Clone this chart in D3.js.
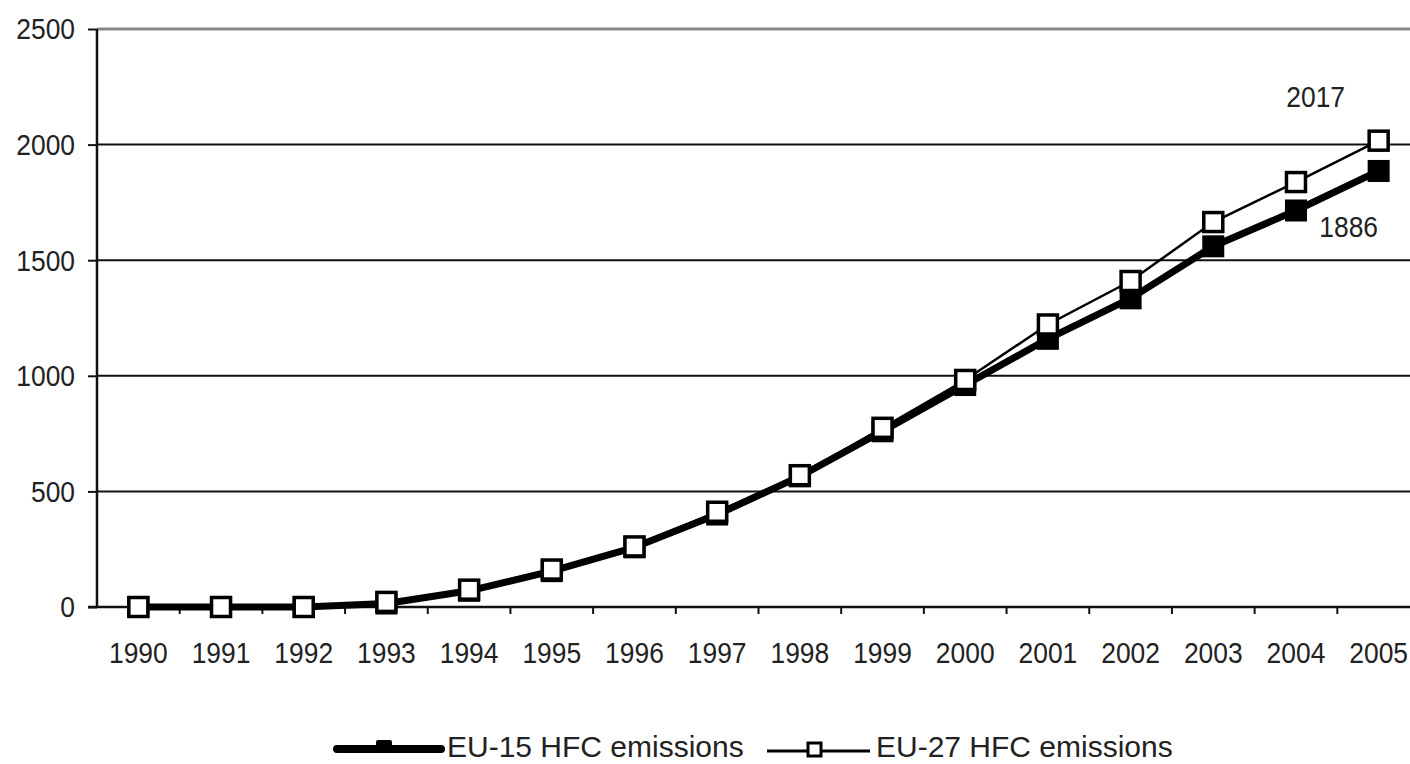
<!DOCTYPE html>
<html>
<head>
<meta charset="utf-8">
<script src="https://cdn.jsdelivr.net/npm/d3@7"></script>
<style>
  body {margin: 0; background: #fff;}
  text {font-family: "Liberation Sans", Arial, sans-serif; fill: #222;}
</style>
</head>
<body>
<script>
var years = d3.range(1990, 2006).map(String)
var eu15 = [0, 0, 0, 15, 70, 155, 258, 400, 565, 760, 960, 1160, 1335, 1560, 1715, 1886]
var eu27 = [0, 0, 0, 22, 75, 162, 262, 412, 570, 775, 982, 1222, 1410, 1665, 1838, 2017]
var yTicks = [0, 500, 1000, 1500, 2000, 2500]
var seriesNames = ['EU-15 HFC emissions', 'EU-27 HFC emissions']

var W = 1410, H = 764
var svg = d3.select('body').append('svg').attr('width', W).attr('height', H)

var x = d3.scaleBand().domain(years).range([97, 1420])
var y = d3.scaleLinear().domain([0, 2500]).range([607, 29])
var cx = d => x(d) + x.bandwidth()/2
var sx = 0.88 // narrow look of the original font

// gridlines
svg.append('g').selectAll('line').data(yTicks.filter(d => d > 0)).join('line')
  .attr('x1', 97).attr('x2', W)
  .attr('y1', d => y(d)).attr('y2', d => y(d))
  .attr('stroke', d => d == 2500 ? '#888' : '#111')
  .attr('stroke-width', d => d == 2500 ? 3 : 2)

// y axis
var yAxis = svg.append('g').attr('transform', 'translate(97,0)')
  .call(d3.axisLeft(y).tickValues(yTicks).tickFormat(d3.format('d')).tickSize(9).tickPadding(13))
yAxis.select('.domain').attr('stroke', '#111').attr('stroke-width', 2.5).attr('d', `M0,${y(2500)}V${y(0)}`)
yAxis.selectAll('.tick line').attr('stroke', '#111').attr('stroke-width', 2)
yAxis.selectAll('.tick text')
  .attr('font-size', 30).attr('dy', '0.33em').attr('fill', '#222')
  .each(function(){
    var t = d3.select(this)
    t.attr('transform', `translate(${+t.attr('x')},0) scale(${sx},1)`).attr('x', 0)
  })

// x axis
var xAxis = svg.append('g').attr('transform', `translate(0,${y(0)})`)
xAxis.append('line').attr('x1', 88).attr('x2', W).attr('stroke', '#111').attr('stroke-width', 2.5)
xAxis.selectAll('line.tk').data(years.slice(1)).join('line').attr('class', 'tk')
  .attr('x1', d => x(d)).attr('x2', d => x(d)).attr('y1', 0).attr('y2', 7)
  .attr('stroke', '#111').attr('stroke-width', 2)
xAxis.selectAll('text').data(years).join('text')
  .attr('transform', d => `translate(${cx(d)},56) scale(${sx},1)`)
  .attr('text-anchor', 'middle').attr('font-size', 30)
  .text(d => d)

var line = d3.line().x((d, i) => cx(years[i])).y(d => y(d))

// EU-15
svg.append('path').datum(eu15).attr('d', line)
  .attr('fill', 'none').attr('stroke', '#000').attr('stroke-width', 7).attr('stroke-linejoin', 'round')
svg.append('g').selectAll('rect').data(eu15).join('rect')
  .attr('x', (d, i) => cx(years[i]) - 11).attr('y', d => y(d) - 11)
  .attr('width', 22).attr('height', 22).attr('fill', '#000')

// EU-27
svg.append('path').datum(eu27).attr('d', line)
  .attr('fill', 'none').attr('stroke', '#000').attr('stroke-width', 2.5)
svg.append('g').selectAll('rect').data(eu27).join('rect')
  .attr('x', (d, i) => cx(years[i]) - 9.5).attr('y', d => y(d) - 9.5)
  .attr('width', 19).attr('height', 19).attr('fill', '#fff')
  .attr('stroke', '#000').attr('stroke-width', 3.5)

// end labels
var last = years.length - 1
svg.append('text')
  .attr('transform', `translate(${cx(years[last]) - 63},${y(eu27[last]) - 34}) scale(${sx},1)`)
  .attr('text-anchor', 'middle').attr('font-size', 30).text(eu27[last])
svg.append('text')
  .attr('transform', `translate(${cx(years[last]) - 30},${y(eu15[last]) + 66}) scale(${sx},1)`)
  .attr('text-anchor', 'middle').attr('font-size', 30).text(eu15[last])

// legend
var lg = svg.append('g').attr('transform', 'translate(0,749)')
lg.append('line').attr('x1', 337).attr('x2', 441).attr('stroke', '#000').attr('stroke-width', 8).attr('stroke-linecap', 'round')
lg.append('rect').attr('x', 376).attr('y', -9).attr('width', 16).attr('height', 10).attr('rx', 2).attr('fill', '#000')
lg.append('text').attr('x', 447).attr('y', 8).attr('font-size', 30).text(seriesNames[0])
lg.append('line').attr('x1', 767).attr('x2', 870).attr('y1', 2).attr('y2', 2).attr('stroke', '#000').attr('stroke-width', 3)
lg.append('rect').attr('x', 808).attr('y', -6).attr('width', 13).attr('height', 13).attr('fill', '#fff').attr('stroke', '#000').attr('stroke-width', 3)
lg.append('text').attr('x', 876).attr('y', 8).attr('font-size', 30).text(seriesNames[1])
</script>
</body>
</html>
